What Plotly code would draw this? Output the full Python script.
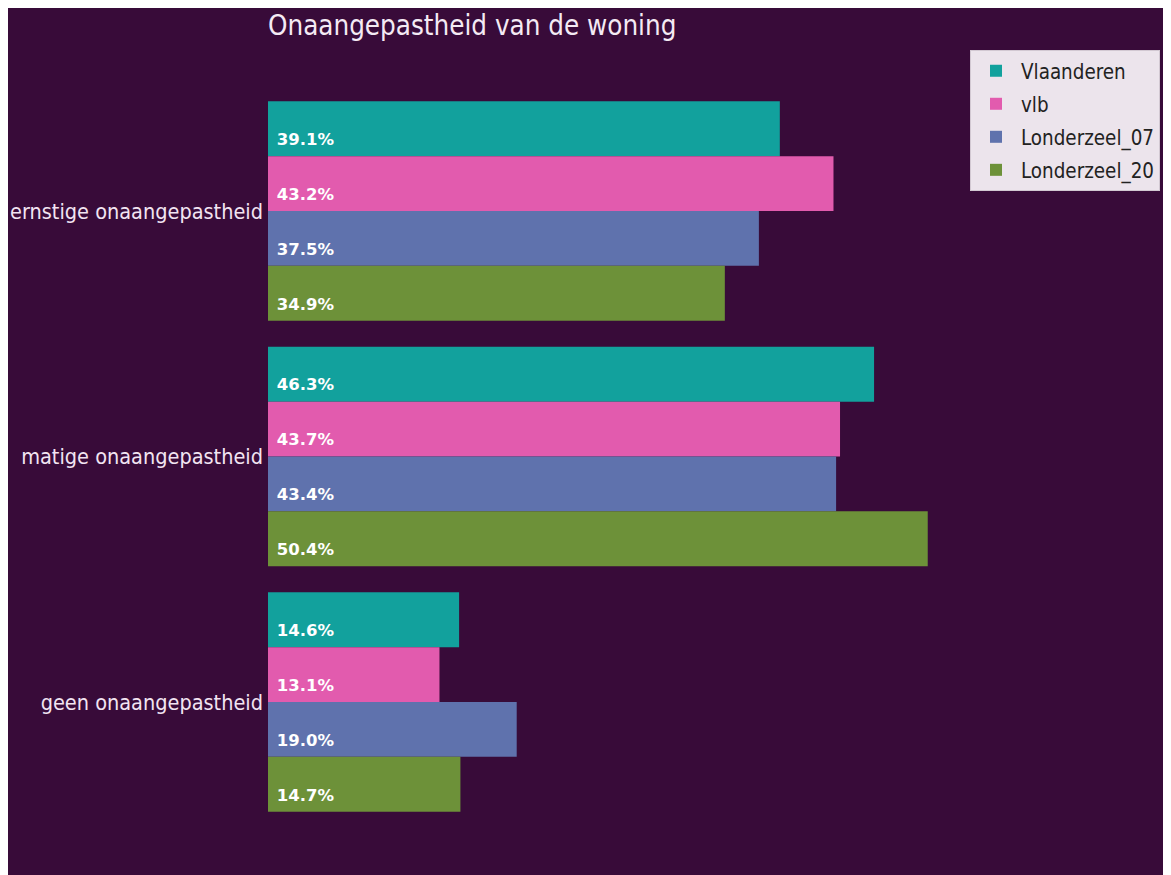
import plotly.graph_objects as go

categories = ["ernstige onaangepastheid", "matige onaangepastheid", "geen onaangepastheid"]
series_names = ["Vlaanderen", "vlb", "Londerzeel_07", "Londerzeel_20"]
vlaanderen = [39.1, 46.3, 14.6]
vlb = [43.2, 43.7, 13.1]
londerzeel_07 = [37.5, 43.4, 19.0]
londerzeel_20 = [34.9, 50.4, 14.7]
title_text = "Onaangepastheid van de woning"

series_values = [vlaanderen, vlb, londerzeel_07, londerzeel_20]
colors = ["#12a19d", "#e25bae", "#5f72ad", "#6d9139"]

BG = "#380b39"
COND = "DejaVu Sans Condensed, DejaVu Sans, sans-serif"

fig = go.Figure()
for name, vals, col in zip(series_names, series_values, colors):
    fig.add_trace(go.Bar(
        y=categories, x=vals, name=name, orientation="h", legendgroup=name,
        marker=dict(color=col, line=dict(width=0)),
        texttemplate="\u00a0<br>\u00a0%{x:.1f}%",
        textposition="inside", insidetextanchor="start",
        constraintext="none",
        textfont=dict(family="DejaVu Sans, sans-serif", size=16.5, color="white", weight="bold"),
    ))

# page body adds an 8px offset; figure fills the rest of the window
W, H = 1163, 867
L, T = 260, 0
plot_w = W - L
plot_h = H - T
cat0 = 203      # pixel centre of first category
unit = 245.5    # pixels per category

fig.update_layout(
    width=W, height=H,
    margin=dict(l=L, r=0, t=T, b=0, pad=0),
    paper_bgcolor=BG,
    plot_bgcolor=BG,
    barmode="group",
    bargap=0.106,
    bargroupgap=0,
    title=dict(text=title_text, x=L / W, xanchor="left", xref="container",
               y=1 - 17 / H, yanchor="middle", yref="container",
               font=dict(family=COND, size=27.5, color="#f4eaf4")),
    xaxis=dict(range=[0, plot_w / 13.09], showticklabels=False, showgrid=False,
               zeroline=False, showline=False, ticks=""),
    yaxis=dict(type="category", categoryarray=categories, categoryorder="array",
               range=[(H - cat0) / unit, (T - cat0) / unit],
               showgrid=False, zeroline=False, showline=False, ticks="", ticklabelstandoff=4,
               tickfont=dict(family=COND, size=21.5, color="#f2e4f2")),
    legend=dict(x=(962 - L) / plot_w, y=1 - 42 / plot_h, xanchor="left", yanchor="top",
                bgcolor="#ece4ec", bordercolor="#d2c8d2", borderwidth=1,
                font=dict(family=COND, size=20.4, color="#222222"),
                itemwidth=40, tracegroupgap=3.5),
    showlegend=True,
)

fig.write_html("out.html")
